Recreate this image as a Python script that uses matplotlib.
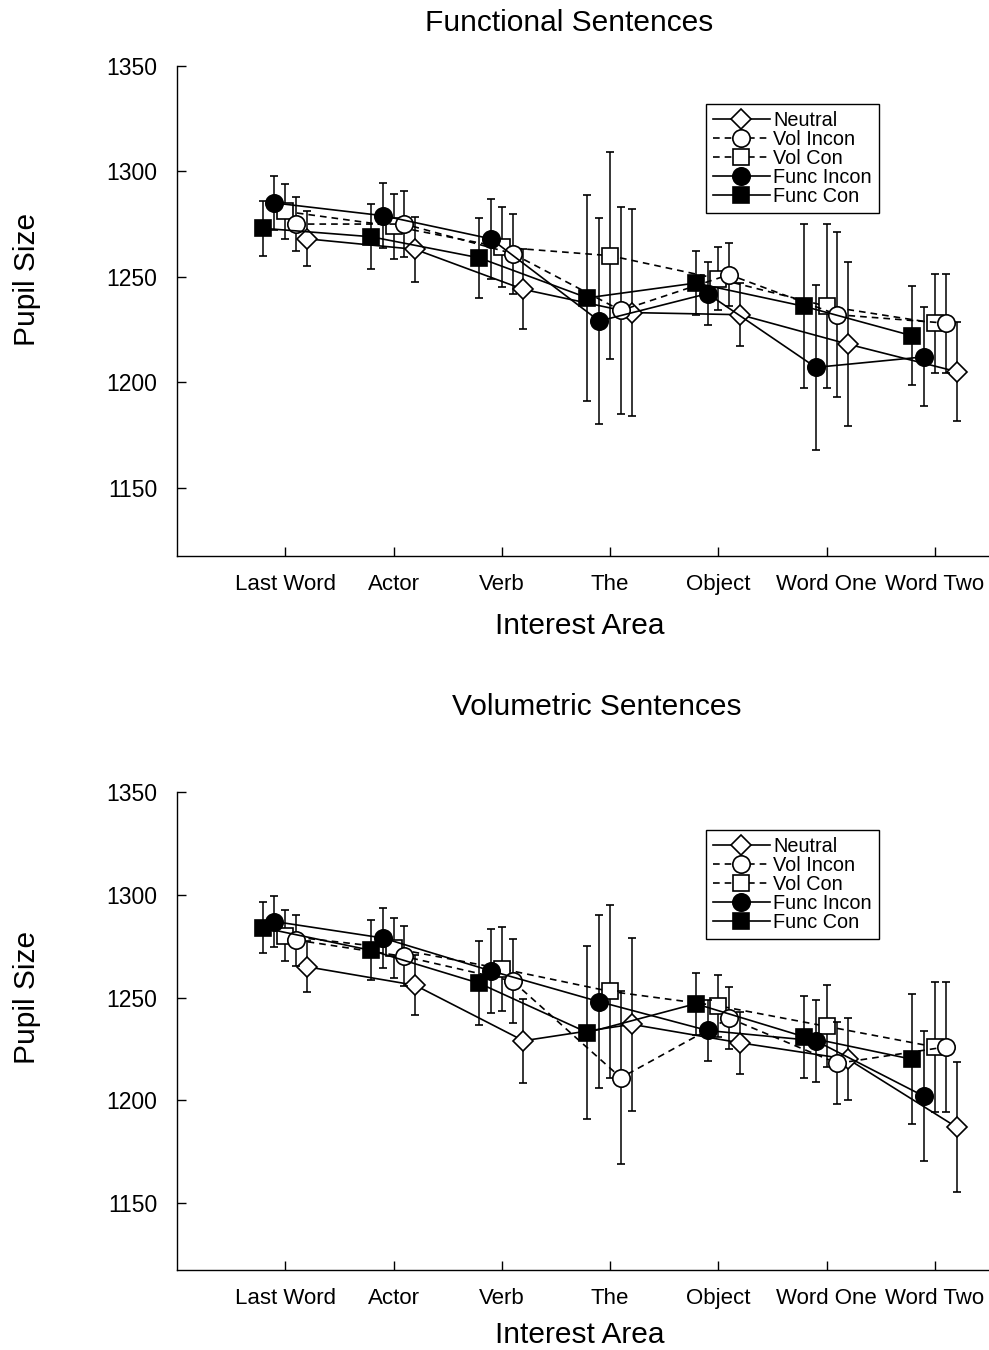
import matplotlib
matplotlib.use("Agg")
import matplotlib.pyplot as plt
from matplotlib.lines import Line2D
import numpy as np

plt.rcParams['font.family'] = ['Liberation Sans', 'DejaVu Sans']

categories = ["Last Word", "Actor", "Verb", "The", "Object", "Word One", "Word Two"]
series_names = ["Neutral", "Vol Incon", "Vol Con", "Func Incon", "Func Con"]

# Functional Sentences
func_neutral = [1268, 1263, 1244, 1233, 1232, 1218, 1205]
func_vol_incon = [1275, 1275, 1261, 1234, 1251, 1232, 1228]
func_vol_con = [1281, 1274, 1264, 1260, 1249, 1236, 1228]
func_func_incon = [1285, 1279, 1268, 1229, 1242, 1207, 1212]
func_func_con = [1273, 1269, 1259, 1240, 1247, 1236, 1222]
func_err = [13, 15.5, 19, 49, 15, 39, 23.5]

# Volumetric Sentences
vol_neutral = [1265, 1256, 1229, 1237, 1228, 1220, 1187]
vol_vol_incon = [1278, 1270, 1258, 1211, 1240, 1218, 1226]
vol_vol_con = [1280, 1274, 1264, 1253, 1246, 1236, 1226]
vol_func_incon = [1287, 1279, 1263, 1248, 1234, 1229, 1202]
vol_func_con = [1284, 1273, 1257, 1233, 1247, 1231, 1220]
vol_err = [12.4, 14.6, 20.5, 42, 15, 20, 31.6]

yticks = [1150, 1200, 1250, 1300, 1350]

W, H = 989, 1350
fig = plt.figure(figsize=(W / 100, H / 100), dpi=100)

styles = {
    "Neutral":    dict(marker='D', ms=10, mfc='white', ls='-', off=0.2, z=3),
    "Vol Incon":  dict(marker='o', ms=12.5, mfc='white', ls=(0, (4, 3)), off=0.1, z=4),
    "Vol Con":    dict(marker='s', ms=12, mfc='white', ls=(0, (4, 3)), off=0.0, z=2),
    "Func Incon": dict(marker='o', ms=12.5, mfc='black', ls='-', off=-0.1, z=6),
    "Func Con":   dict(marker='s', ms=12, mfc='black', ls='-', off=-0.21, z=5),
}


def px_axes(left, top, right, bottom):
    return [left / W, 1 - bottom / H, (right - left) / W, (bottom - top) / H]


def draw(rect, data, err, title, title_xy, xlabel_xy, ylabel_xy, leg_anchor):
    ax = fig.add_axes(rect)
    x = np.arange(1, len(categories) + 1)
    handles = []
    for name, vals in zip(series_names, data):
        st = styles[name]
        ax.errorbar(x + st['off'], vals, yerr=err, color='black',
                    marker=st['marker'], ms=st['ms'], mfc=st['mfc'],
                    mec='black', mew=1.2, ls=st['ls'], lw=1.2,
                    elinewidth=1.1, capsize=2.6, capthick=1.1,
                    zorder=st['z'])
        handles.append(Line2D([], [], color='black', marker=st['marker'],
                              ms=st['ms'], mfc=st['mfc'], mec='black',
                              mew=1.2, ls=st['ls'], lw=1.2))
    ax.set_xlim(0, 7.5)
    ax.set_ylim(1117.5, 1350)
    ax.set_xticks(x)
    ax.set_xticklabels(categories, fontsize=16)
    ax.set_yticks(yticks)
    ax.set_yticklabels([str(v) for v in yticks], fontsize=16.5)
    ax.tick_params(axis='y', direction='in', length=6.5, width=1, pad=14)
    ax.tick_params(axis='x', direction='in', length=6.5, width=1, pad=13)
    for s in ['top', 'right']:
        ax.spines[s].set_visible(False)
    for s in ['left', 'bottom']:
        ax.spines[s].set_linewidth(1.0)
    leg = ax.legend(handles=handles, labels=series_names, loc='upper left',
                    bbox_to_anchor=leg_anchor, fontsize=14.3, frameon=True,
                    fancybox=False, edgecolor='black', framealpha=1,
                    handlelength=2.9, handletextpad=0.15, labelspacing=0.0,
                    borderpad=0.35, borderaxespad=0)
    leg.get_frame().set_linewidth(1.0)
    fig.text(title_xy[0] / W, 1 - title_xy[1] / H, title, fontsize=21.5,
             ha='center', va='center')
    fig.text(xlabel_xy[0] / W, 1 - xlabel_xy[1] / H, "Interest Area",
             fontsize=21.5, ha='center', va='center')
    fig.text(ylabel_xy[0] / W, 1 - ylabel_xy[1] / H, "Pupil Size",
             fontsize=21.5, ha='center', va='center', rotation=90)
    return ax


draw(px_axes(177, 66, 989, 556),
     [func_neutral, func_vol_incon, func_vol_con, func_func_incon, func_func_con],
     func_err, "Functional Sentences", (569, 23), (580, 626), (27, 279),
     (0.651, 0.922))

draw(px_axes(177, 792, 989, 1270),
     [vol_neutral, vol_vol_incon, vol_vol_con, vol_func_incon, vol_func_con],
     vol_err, "Volumetric Sentences", (597, 707), (580, 1335), (27, 997),
     (0.651, 0.9205))

fig.savefig("out.png", dpi=100)
